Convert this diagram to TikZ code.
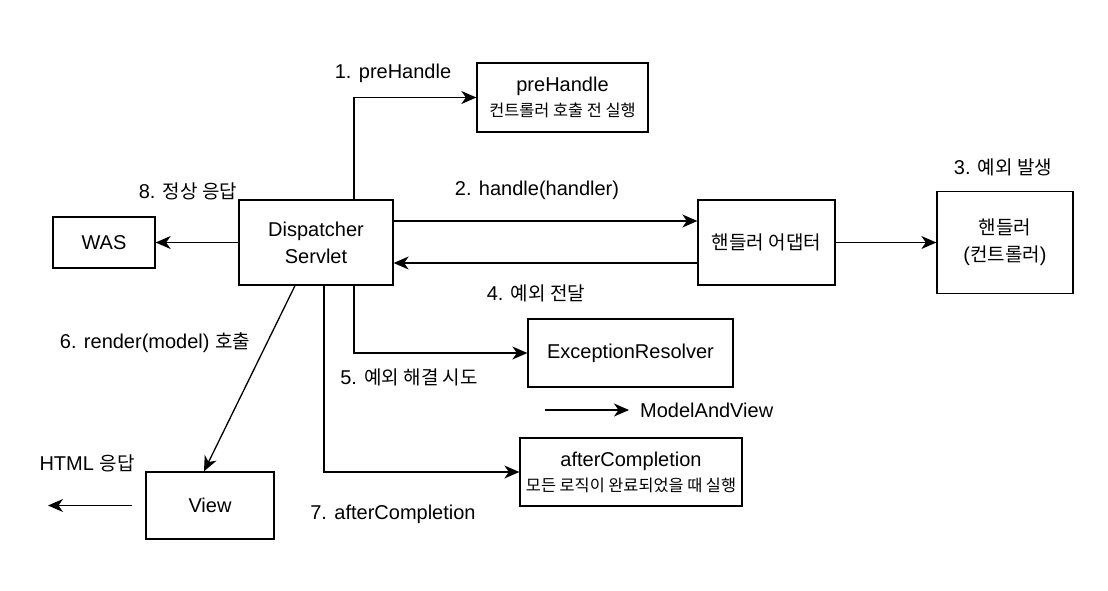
\documentclass[tikz,border=0pt]{standalone}
\usepackage{fontspec}
\setmainfont{Liberation Sans}
\newfontfamily\krf[Scale=0.95]{Noto Sans CJK KR}
\newcommand\K[1]{{\krf #1}}
\usetikzlibrary{arrows.meta}
\begin{document}
\begin{tikzpicture}[x=1pt,y=-1pt,
  every node/.style={font=\fontsize{20}{27}\selectfont, inner sep=0pt},
  box/.style={draw, line width=1.3pt, align=center},
  lbl/.style={align=center},
  arr/.style={line width=1.3pt, -{Stealth[length=15pt,width=13pt,inset=4.5pt]}}]
\useasboundingbox (0,0) rectangle (1108,590);
% boxes
\node[box, minimum width=154pt, minimum height=85pt] (ds) at (316,242.5) {Dispatcher\\Servlet};
\node[box, minimum width=171pt, minimum height=69pt] (pre) at (562.5,97.5) {preHandle\\[-2pt]{\fontsize{17.2}{22}\selectfont\K{컨트롤러 호출 전 실행}}};
\node[box, minimum width=137pt, minimum height=85pt] (ad) at (766.5,242.5) {\K{핸들러 어댑터}};
\node[box, minimum width=136pt, minimum height=102pt] (ctl) at (1005,242.5) {\K{핸들러}\\(\K{컨트롤러})};
\node[box, minimum width=102pt, minimum height=51pt] (was) at (104,242.5) {WAS};
\node[box, minimum width=205pt, minimum height=68pt] (er) at (630.5,353) {ExceptionResolver};
\node[box, minimum width=222pt, minimum height=68pt] (ac) at (631,472) {afterCompletion\\[-2pt]{\fontsize{17.2}{22}\selectfont\K{모든 로직이 완료되었을 때 실행}}};
\node[box, minimum width=128pt, minimum height=67pt] (view) at (210,505.5) {View};
% labels
\node[lbl] (l1) at (393,73) {1. preHandle};
\node[lbl] (l2) at (537,190) {2. handle(handler)};
\node[lbl] (l3) at (1003,167) {3. \K{예외 발생}};
\node[lbl] (l4) at (536,293) {4. \K{예외 전달}};
\node[lbl] (l5) at (409,377) {5. \K{예외 해결 시도}};
\node[lbl] (l6) at (155,343) {6. render(model) \K{호출}};
\node[lbl] (l7) at (393,514) {7. afterCompletion};
\node[lbl] (l8) at (188,191) {8. \K{정상 응답}};
\node[lbl] (lh) at (87,463) {HTML \K{응답}};
\node[lbl, anchor=west] (mv) at (640,410) {ModelAndView};
\coordinate (m0) at (545,410);
\coordinate (h1) at (48,505.5);
% connectors
\draw[arr] ([xshift=38pt]ds.north) |- (pre.west);
\draw[arr] ([yshift=21.5pt]ds.east) -- ([yshift=21.5pt]ad.west);
\draw[arr] ([yshift=-20.5pt]ad.west) -- ([yshift=-20.5pt]ds.east);
\draw[arr] (ad.east) -- (ctl.west);
\draw[arr] (ds.west) -- (was.east);
\draw[arr] ([xshift=38pt]ds.south) |- (er.west);
\draw[arr] ([xshift=8pt]ds.south) |- (ac.west);
\draw[arr] ([xshift=-21pt]ds.south) -- ([xshift=-6pt]view.north);
\draw[arr] ([xshift=-13pt]view.west) -- (h1);
\draw[arr] (m0) -- ([xshift=-11pt]mv.west);
\end{tikzpicture}
\end{document}
